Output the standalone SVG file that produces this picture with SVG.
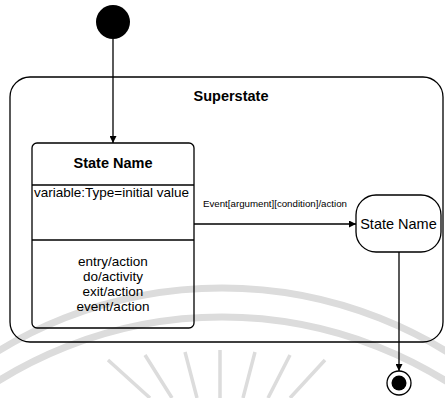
<svg xmlns="http://www.w3.org/2000/svg" width="445" height="398" viewBox="0 0 445 398">
<style>
  .ln { fill: none; stroke: #000; stroke-width: 1.3; }
  .box { fill: none; stroke: #000; stroke-width: 1.3; }
  .t { font-family: "Liberation Sans", Arial, sans-serif; fill: #000; }
  .b { font-weight: bold; }
  .wm { fill: none; stroke: #dcdcdc; stroke-width: 7; }
  .ray { fill: none; stroke: #dcdcdc; stroke-width: 3.5; }
</style>
<defs>
  <marker id="arr" viewBox="0 0 10 10" refX="10" refY="5" markerWidth="7" markerHeight="7" orient="auto" markerUnits="userSpaceOnUse">
    <path d="M0,0 L10,5 L0,10 z" fill="#000"/>
  </marker>
</defs>
<rect width="445" height="398" fill="#fff"/>
<g id="watermark">
  <circle class="wm" cx="222" cy="716" r="428"/>
  <circle class="wm" cx="222" cy="740" r="423"/>
  <path class="ray" d="M108,360 L150,398 M145,355 L172,398 M185,352 L197,398 M220,350 L220,398 M255,352 L243,398 M290,355 L268,398 M325,360 L290,398"/>
</g>
<g id="superstate">
  <rect class="box" x="10" y="77" width="433" height="265" rx="20" ry="20"/>
  <text class="t b" x="231" y="101" font-size="14.5" text-anchor="middle">Superstate</text>
</g>
<g id="initial">
  <circle cx="113" cy="22" r="17" fill="#000"/>
</g>
<g id="state1">
  <rect class="box" x="32" y="143" width="162" height="185" rx="5" ry="5"/>
  <line class="ln" x1="32" y1="185" x2="194" y2="185"/>
  <line class="ln" x1="32" y1="240" x2="194" y2="240"/>
  <text class="t b" x="113" y="168" font-size="14.5" text-anchor="middle">State Name</text>
  <text class="t" x="34" y="197" font-size="13.5" textLength="155" lengthAdjust="spacingAndGlyphs">variable:Type=initial value</text>
  <text class="t" x="113" y="266" font-size="13.5" text-anchor="middle">entry/action</text>
  <text class="t" x="113" y="281" font-size="13.5" text-anchor="middle">do/activity</text>
  <text class="t" x="113" y="296" font-size="13.5" text-anchor="middle">exit/action</text>
  <text class="t" x="113" y="311" font-size="13.5" text-anchor="middle">event/action</text>
</g>
<g id="state2">
  <rect class="box" x="356" y="195" width="85" height="57" rx="20" ry="20"/>
  <text class="t" x="398.5" y="229" font-size="14.5" text-anchor="middle">State Name</text>
</g>
<g id="final">
  <circle cx="399" cy="383" r="12" fill="#fff" stroke="#000" stroke-width="1.3"/>
  <circle cx="399" cy="383" r="7.5" fill="#000"/>
</g>
<g id="connectors">
  <line class="ln" x1="113" y1="39" x2="113" y2="143" marker-end="url(#arr)"/>
  <line class="ln" x1="194" y1="224" x2="356" y2="224" marker-end="url(#arr)"/>
  <text class="t" x="203" y="207" font-size="9.5" textLength="144" lengthAdjust="spacingAndGlyphs">Event[argument][condition]/action</text>
  <line class="ln" x1="399" y1="252" x2="399" y2="371" marker-end="url(#arr)"/>
</g>
</svg>
